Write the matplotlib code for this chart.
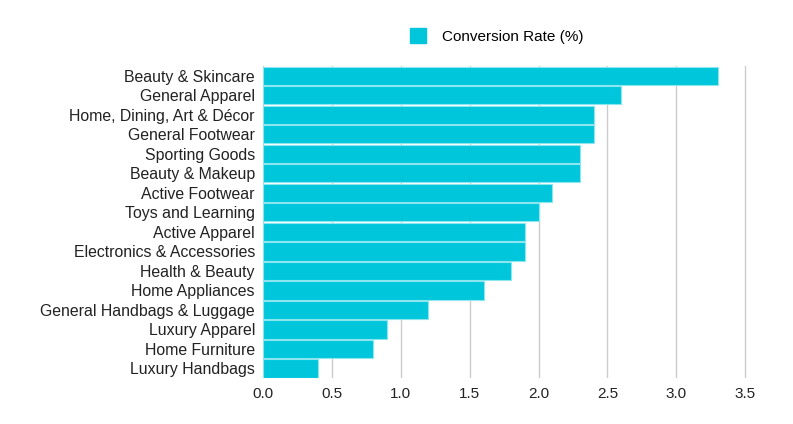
import matplotlib
matplotlib.use("Agg")
from matplotlib import pyplot as plt
from matplotlib.patches import Patch

plt.rcParams['font.family'] = ['Liberation Sans', 'DejaVu Sans']

categories = ["Beauty & Skincare", "General Apparel", "Home, Dining, Art & Décor",
              "General Footwear", "Sporting Goods", "Beauty & Makeup",
              "Active Footwear", "Toys and Learning", "Active Apparel",
              "Electronics & Accessories", "Health & Beauty", "Home Appliances",
              "General Handbags & Luggage", "Luxury Apparel", "Home Furniture",
              "Luxury Handbags"]
rates = [3.3, 2.6, 2.4, 2.4, 2.3, 2.3, 2.1, 2.0, 1.9, 1.9, 1.8, 1.6, 1.2, 0.9, 0.8, 0.4]
xticks = [0.0, 0.5, 1.0, 1.5, 2.0, 2.5, 3.0, 3.5]

fig = plt.figure(figsize=(7.93, 4.24), dpi=100)
ax = fig.add_axes([0.332, 0.108, 0.6110, 0.736])

ypos = list(range(len(categories)))
ax.barh(ypos, rates, height=0.93, color='#00c6db', edgecolor='#8be6f0',
        linewidth=0.8, zorder=3)
ax.set_ylim(len(categories) - 0.5, -0.5)
ax.set_yticks(ypos)
ax.set_yticklabels(categories, fontsize=11.4, color='#222222')
ax.set_xlim(0, 3.52)
ax.set_xticks(xticks)
ax.set_xticklabels([f"{t:.1f}" for t in xticks], fontsize=11, color='#222222')
ax.tick_params(length=0, pad=6)
ax.grid(axis='x', color='#cccccc', linewidth=1, zorder=0)
for s in ax.spines.values():
    s.set_visible(False)

fig.legend(handles=[Patch(facecolor='#00c6db', edgecolor='#00c6db', label='Conversion Rate (%)')],
           loc='center', bbox_to_anchor=(0.626, 0.915), frameon=False,
           fontsize=11, handlelength=1.1, handleheight=1.1, handletextpad=1.0)

fig.savefig("out.png", dpi=100, facecolor='white')
